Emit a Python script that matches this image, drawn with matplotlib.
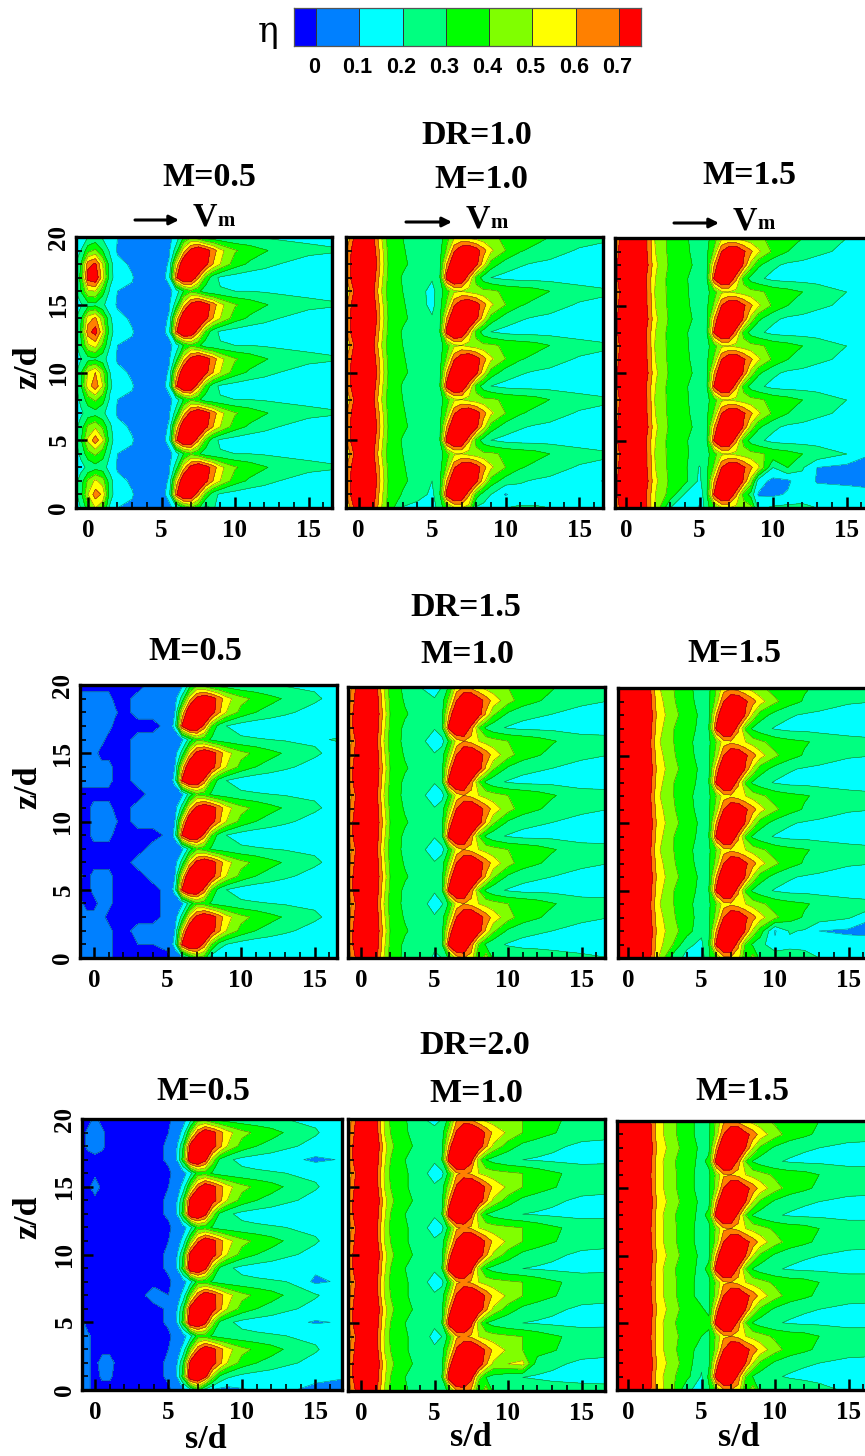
import numpy as np
import matplotlib
matplotlib.use('Agg')
import matplotlib.pyplot as plt
from matplotlib.patches import FancyArrowPatch

plt.rcParams['font.family'] = ['Liberation Serif', 'DejaVu Serif']
plt.rcParams['font.weight'] = 'bold'

W, H = 865, 1456

## data
levels = [0, 0.1, 0.2, 0.3, 0.4, 0.5, 0.6, 0.7]
level_labels = ['0', '0.1', '0.2', '0.3', '0.4', '0.5', '0.6', '0.7']
band_colors = ['#0000ff', '#0080ff', '#00ffff', '#00ff80', '#00ff00',
               '#80ff00', '#ffff00', '#ff8000', '#ff0000']

s_pos = [-1, -.5, 0, .5, 1, 1.5, 2, 3, 4, 5, 5.5, 6, 6.5, 7, 7.5, 8, 8.5, 9, 10, 11, 12, 13, 15, 17]
z_pos = list(range(21))

# one jet period per panel, rows are z = 0, 1, 2, 3 (repeats along z)
dr10_m05 = [
    [.11, .15, .3, .36, .28, .15, .1, .09, .05, .05, .07, .14, .3, .38, .32, .24, .22, .21, .2, .2, .19, .18, .17, .16],
    [.11, .17, .4, .6, .5, .18, .14, .105, .05, .07, .13, .68, .88, .84, .62, .38, .24, .18, .15, .13, .12, .12, .12, .12],
    [.11, .17, .35, .5, .4, .18, .12, .09, .05, .06, .11, .52, .84, .95, .92, .74, .6, .5, .35, .28, .24, .2, .15, .13],
    [.11, .14, .22, .26, .22, .15, .09, .08, .05, .05, .08, .25, .55, .74, .84, .76, .66, .53, .41, .36, .31, .27, .23, .21],
]
dr10_m10 = [
    [.45, .62, .85, .88, .72, .52, .37, .3, .24, .21, .25, .36, .48, .5, .46, .44, .42, .42, .38, .36, .34, .3, .24, .21],
    [.55, .72, .88, .88, .76, .55, .38, .29, .24, .21, .27, .75, .9, .85, .62, .36, .25, .2, .17, .16, .16, .16, .15, .15],
    [.55, .72, .88, .88, .8, .58, .4, .32, .26, .21, .26, .6, .86, .95, .9, .74, .54, .36, .25, .21, .19, .18, .16, .16],
    [.55, .7, .88, .88, .76, .56, .38, .31, .25, .21, .26, .42, .68, .8, .85, .76, .64, .52, .4, .31, .27, .24, .19, .18],
]
dr10_m15 = [
    [.5, .68, .88, .88, .82, .68, .48, .37, .31, .27, .27, .36, .48, .5, .47, .45, .43, .42, .37, .34, .3, .27, .2, .18],
    [.6, .72, .88, .88, .82, .66, .5, .36, .31, .26, .29, .72, .9, .85, .62, .36, .26, .22, .17, .16, .16, .15, .14, .14],
    [.6, .72, .88, .88, .84, .7, .52, .38, .33, .27, .28, .6, .86, .94, .88, .68, .46, .32, .22, .18, .17, .16, .15, .15],
    [.55, .7, .88, .88, .82, .68, .5, .37, .32, .26, .28, .42, .7, .82, .84, .72, .62, .52, .38, .3, .26, .22, .18, .16],
]
dr15_m05 = [
    [.02, .02, .02, .02, .02, .02, -.02, .02, .02, .02, .04, .08, .24, .38, .35, .28, .25, .24, .22, .21, .2, .19, .18, .13],
    [.02, .02, .02, .02, .02, .02, -.02, .02, .02, .02, .13, .72, .9, .85, .66, .4, .26, .2, .15, .13, .12, .12, .12, .11],
    [.02, .02, .02, .02, .02, .02, -.02, .02, .02, .02, .1, .52, .85, .95, .92, .76, .62, .5, .37, .3, .26, .22, .16, .11],
    [.02, .02, .02, .02, .02, .02, -.02, .02, .02, .02, .06, .24, .55, .74, .82, .76, .66, .54, .43, .38, .33, .29, .22, .14],
]
dr15_m10 = [
    [.5, .65, .85, .88, .76, .52, .35, .28, .24, .19, .2, .32, .54, .6, .56, .5, .46, .44, .4, .38, .35, .31, .24, .23],
    [.55, .72, .88, .88, .78, .55, .37, .28, .24, .21, .28, .75, .92, .88, .66, .4, .28, .23, .19, .17, .17, .17, .16, .16],
    [.55, .72, .88, .88, .8, .58, .39, .31, .26, .21, .26, .6, .88, .95, .92, .76, .58, .42, .28, .23, .21, .2, .17, .17],
    [.5, .68, .88, .88, .78, .55, .37, .29, .25, .21, .26, .44, .7, .84, .88, .76, .66, .56, .44, .35, .31, .27, .22, .2],
]
dr15_m15 = [
    [.55, .78, .9, .9, .85, .72, .52, .41, .32, .27, .28, .4, .55, .58, .54, .5, .45, .42, .36, .33, .31, .28, .24, .22],
    [.6, .78, .9, .9, .85, .74, .55, .41, .33, .28, .3, .72, .92, .86, .62, .38, .28, .24, .19, .17, .17, .16, .15, .15],
    [.6, .78, .9, .9, .86, .76, .57, .44, .35, .28, .28, .6, .88, .95, .88, .68, .48, .35, .26, .21, .19, .18, .16, .16],
    [.55, .76, .9, .9, .85, .73, .55, .42, .33, .27, .28, .44, .7, .82, .84, .72, .64, .54, .42, .34, .29, .25, .21, .2],
]
dr20_m05 = [
    [-.02, -.02, -.02, -.02, -.02, -.02, -.02, -.02, -.02, -.01, .02, .06, .16, .35, .35, .28, .25, .24, .23, .22, .21, .2, .18, .12],
    [-.02, -.02, -.02, -.02, -.02, -.02, -.02, -.02, -.02, .01, .07, .35, .85, .88, .74, .46, .28, .22, .17, .15, .14, .13, .12, .11],
    [-.02, -.02, -.02, -.02, -.02, -.02, -.02, -.02, -.02, .01, .06, .3, .76, .95, .95, .76, .63, .5, .36, .3, .26, .22, .17, .12],
    [-.02, -.02, -.02, -.02, -.02, -.02, -.02, -.02, -.02, 0, .04, .13, .42, .66, .8, .74, .64, .54, .43, .38, .34, .29, .21, .13],
]
dr20_m10 = [
    [.5, .65, .85, .88, .76, .52, .38, .31, .26, .2, .2, .34, .58, .62, .58, .5, .46, .44, .42, .4, .36, .32, .26, .25],
    [.55, .72, .88, .88, .78, .55, .4, .3, .25, .22, .3, .78, .95, .92, .74, .44, .3, .26, .22, .2, .19, .18, .17, .18],
    [.55, .72, .88, .88, .82, .58, .42, .33, .27, .22, .26, .62, .92, .98, .95, .8, .62, .48, .35, .27, .24, .22, .18, .18],
    [.5, .68, .88, .88, .78, .52, .4, .31, .26, .22, .26, .46, .72, .86, .9, .8, .68, .58, .48, .4, .35, .31, .24, .22],
]
dr20_m15 = [
    [.55, .78, .9, .9, .85, .72, .55, .43, .33, .27, .28, .42, .58, .6, .56, .5, .46, .44, .38, .35, .34, .3, .25, .25],
    [.6, .78, .9, .9, .85, .74, .55, .42, .33, .28, .32, .75, .92, .88, .66, .4, .29, .25, .21, .19, .18, .18, .17, .17],
    [.6, .78, .9, .9, .87, .76, .58, .45, .35, .28, .28, .6, .9, .95, .88, .7, .5, .38, .28, .23, .21, .2, .18, .18],
    [.55, .76, .9, .9, .85, .73, .55, .43, .33, .27, .28, .44, .7, .84, .88, .74, .66, .56, .44, .36, .32, .28, .23, .22],
]

# upstream spots of the first panel, z = 0..20, s = -1, -.5, 0, .5, 1, 1.5
dr10_m05_spots = [
    [.1, .2, .35, .5, .42, .18], [.14, .26, .5, .65, .58, .24], [.14, .24, .42, .52, .45, .24],
    [.13, .17, .22, .26, .24, .16], [.13, .22, .36, .42, .34, .2], [.15, .28, .52, .66, .52, .24],
    [.14, .24, .42, .48, .38, .22], [.13, .18, .24, .26, .22, .15], [.13, .22, .35, .42, .34, .18],
    [.14, .28, .55, .66, .5, .22], [.14, .28, .52, .6, .44, .2], [.13, .19, .26, .28, .24, .15],
    [.14, .28, .48, .54, .38, .2], [.16, .3, .66, .75, .52, .24], [.15, .28, .55, .62, .44, .22],
    [.13, .18, .26, .27, .22, .14], [.15, .3, .48, .5, .34, .18], [.17, .32, .76, .8, .54, .24],
    [.16, .3, .66, .72, .5, .24], [.13, .2, .36, .42, .3, .18], [.12, .14, .2, .22, .18, .13],
]

# upstream patchwork of DR=1.5 M=0.5, z = 0..20, s = -1 .. 5
D, L = -.02, .02
dr15_m05_up = [
    [L, L, L, L, L, D, D, D, D, D], [L, L, L, L, L, D, D, 0, 0, L], [L, L, L, L, L, D, D, L, L, L],
    [L, L, L, L, D, D, D, D, D, L], [L, D, D, L, L, D, D, D, D, L], [D, D, L, L, L, D, D, D, D, L],
    [L, D, L, L, L, D, D, D, L, L], [D, D, D, D, D, D, D, L, L, L], [D, D, D, D, D, D, D, D, L, L],
    [D, D, L, L, L, D, D, D, D, .01], [D, D, L, L, L, .005, D, L, L, L], [D, D, L, L, L, D, D, L, L, L],
    [D, D, D, D, D, D, D, D, L, L], [L, L, L, L, L, D, D, L, L, L], [L, L, L, L, L, D, D, L, L, L],
    [L, L, L, D, D, D, D, L, L, L], [L, L, L, L, D, D, D, L, L, L], [L, L, L, L, L, D, D, D, D, L],
    [L, L, L, L, L, .005, D, L, L, L], [L, L, L, L, L, D, D, L, L, L], [D, D, D, D, D, D, D, D, L, L],
]

# local spots that do not repeat: (s, z, eta)
patch_dr10_m05 = [(8, 0, .15), (9, 0, .13), (10, 0, .17), (11, 0, .18), (12, 0, .14), (13, 0, .12), (15, 0, .12), (17, 0, .12)]
patch_dr10_m10 = [(3, 0, .19), (4, 0, .16), (5, 0, .14), (5, 1, .18), (5, 2, .2), (8, 0, .18), (8.5, 0, .17), (9, 0, .18),
                  (10, 0, .2), (11, 0, .21), (12, 0, .21), (13, 0, .2), (15, 0, .16), (17, 0, .15), (10, 1, .09), (17, 2, .08),
                  (5, 15, .17), (5, 16, .17)]
patch_dr10_m15 = [(3, 0, .2), (4, 0, .16), (5, 0, .09), (4, 1, .19), (5, 1, .13), (5, 2, .18), (5, 3, .19),
                  (9, 0, .18), (10, 0, .22), (11, 0, .23), (12, 0, .22), (13, 0, .2), (15, 0, .15), (17, 0, .13),
                  (9, 1, .09), (10, 1, .08), (11, 1, .11), (9, 2, .15), (10, 2, .07), (11, 2, .08), (10, 3, .2), (12, 3, .21),
                  (13, 2, .09), (13, 3, .1), (15, 2, .08), (15, 3, .07), (17, 2, .05), (17, 3, .05), (17, 4, .09)]
patch_dr15_m05 = [(8, 0, .14), (8.5, 0, .09), (9, 0, .13), (10, 0, .2), (11, 0, .2), (12, 0, .19), (13, 0, .14), (15, 0, .12), (17, 0, .11),
                  (17, 16, .22), (17, 20, .22)]
patch_dr15_m10 = [(8, 0, .3), (9, 0, .27), (10, 0, .28), (11, 0, .28), (12, 0, .26), (13, 0, .24), (15, 0, .22), (17, 0, .2),
                  (5, 4, .16), (5, 8, .13), (5, 12, .13), (5, 16, .13), (5, 20, .16), (5.5, 4, .19), (5.5, 8, .16), (5.5, 12, .16),
                  (5.5, 16, .16), (4, 20, .2)]
patch_dr15_m15 = [(3, 0, .26), (4, 0, .17), (5, 0, .15), (4, 1, .22), (5, 1, .18), (5, 2, .22), (8, 0, .3), (9, 0, .25),
                  (10, 0, .28), (11, 0, .26), (12, 0, .24), (13, 0, .2), (15, 0, .18), (17, 0, .17),
                  (10, 2, .09), (10, 1, .12), (13, 2, .1), (15, 2, .08), (17, 2, .07), (17, 3, .1)]
patch_dr20_m05 = [(0, 18, .03), (0, 19, .03), (.5, 18, .01), (.5, 19, .01), (-.5, 18, .01), (-.5, 19, .01), (0, 15, .04), (4, 7, .03),
                  (.5, 2, .03), (1, 1, .01), (1, 2, .03), (.5, 1, .01), (-1, 0, .02), (-1, 1, .02), (-1, 2, .02), (-1, 3, .02),
                  (-1, 4, .02), (-1, 5, .02), (-.5, 0, .01), (-.5, 1, .01), (-.5, 2, .01), (-.5, 3, .01), (-.5, 4, .01), (0, 20, .01),
                  (7.5, 0, .15), (8, 0, .09), (8.5, 0, .07), (9, 0, .06), (10, 0, .09), (11, 0, .11), (12, 0, .12), (13, 0, .11),
                  (15, 0, .08), (17, 0, .05), (15, 8, .08), (15, 5, .09), (15, 17, .08)]
patch_dr20_m10 = [(8, 0, .3), (9, 0, .27), (10, 0, .26), (11, 0, .26), (12, 0, .26), (13, 0, .25), (15, 0, .24), (17, 0, .22),
                  (10, 2, .5), (11, 2, .53), (5, 4, .17), (5, 8, .14), (5, 12, .14), (5, 16, .14), (5, 20, .18), (5.5, 8, .17),
                  (5.5, 12, .17), (5.5, 16, .17), (4, 20, .21)]
patch_dr20_m15 = [(4, 0, .22), (5, 0, .16), (5, 1, .19), (5, 2, .22), (8, 0, .32), (9, 0, .25), (10, 0, .27), (11, 0, .27),
                  (12, 0, .25), (13, 0, .22), (15, 0, .19), (17, 0, .18), (5, 4, .3), (5, 5, .31), (5, 6, .31), (4, 4, .36)]

fields = [dr10_m05, dr10_m10, dr10_m15, dr15_m05, dr15_m10, dr15_m15, dr20_m05, dr20_m10, dr20_m15]
patches = [patch_dr10_m05, patch_dr10_m10, patch_dr10_m15, patch_dr15_m05, patch_dr15_m10,
           patch_dr15_m15, patch_dr20_m05, patch_dr20_m10, patch_dr20_m15]

## layout, in pixels: left, right, top, bottom, x pixel of s/d=0
boxes = [(76, 332, 237, 508, 88), (346, 603, 237, 508, 358.6), (615, 873, 238, 508, 626),
         (80, 337, 685, 958, 94), (348, 605, 687, 958, 361), (618, 875, 688, 958, 628),
         (82, 342, 1119, 1390, 95), (348, 605, 1119, 1391, 361), (617, 875, 1121, 1390, 628)]
px_per_s = 14.7


def fig_text(x, y, txt, **kw):
    kw.setdefault('ha', 'center')
    kw.setdefault('va', 'center')
    fig.text(x / W, 1 - y / H, txt, **kw)


fig = plt.figure(figsize=(W / 100, H / 100), dpi=100)

## panels
for i in range(9):
    grid = np.array([fields[i][z % 4] for z in z_pos], dtype=float)
    if i == 0:
        grid[:, :6] = dr10_m05_spots
    if i == 3:
        grid[:, :10] = dr15_m05_up
    for s, z, val in patches[i]:
        grid[z, s_pos.index(s)] = val

    l, r, t, b, s0 = boxes[i]
    ax = fig.add_axes([l / W, 1 - b / H, (r - l) / W, (b - t) / H])
    ax.contourf(s_pos, z_pos, grid, levels=[-1] + levels + [2], colors=band_colors)
    ax.contour(s_pos, z_pos, grid, levels=levels, colors='#222222', linewidths=0.35, alpha=0.7)
    ax.set_xlim((l - s0) / px_per_s, (r - s0) / px_per_s)
    ax.set_ylim(0, 20)
    ax.set_xticks([0, 5, 10, 15])
    ax.set_yticks([0, 5, 10, 15, 20])
    ax.set_xticks(range(0, 17), minor=True)
    ax.set_yticks(range(0, 21), minor=True)
    ax.tick_params(which='major', direction='in', length=8, width=1.8, labelsize=18, pad=8)
    ax.tick_params(which='minor', direction='in', length=4.5, width=1.2)
    if i % 3 == 0:
        ax.set_yticklabels(['0', '5', '10', '15', '20'], rotation=90, va='center')
        ax.tick_params(axis='y', pad=4)
    else:
        ax.tick_params(axis='y', labelleft=False)
    for sp in ax.spines.values():
        sp.set_linewidth(2.4)

## titles
for x, y, txt in [(477, 135, 'DR=1.0'), (209, 178, 'M=0.5'), (481, 179, 'M=1.0'), (749, 176, 'M=1.5'),
                  (466, 607, 'DR=1.5'), (195, 652, 'M=0.5'), (467, 655, 'M=1.0'), (734, 653, 'M=1.5'),
                  (475, 1045, 'DR=2.0'), (203, 1092, 'M=0.5'), (476, 1093, 'M=1.0'), (742, 1092, 'M=1.5')]:
    fig_text(x, y, txt, fontsize=24.5)

for y in [367, 787, 1217]:
    fig_text(28, y, 'z/d', fontsize=24.5, rotation=90)
for x, y in [(206, 1440), (471, 1438), (739, 1438)]:
    fig_text(x, y, 's/d', fontsize=24.5)

## flow direction arrows
for x0, x1, y in [(135, 179, 220), (406, 452, 222), (674, 719, 223)]:
    fig.add_artist(FancyArrowPatch((x0 / W, 1 - y / H), (x1 / W, 1 - y / H), transform=fig.transFigure,
                                   arrowstyle='-|>', mutation_scale=14, lw=2.2, color='k',
                                   shrinkA=0, shrinkB=0))
    fig_text(x1 + 14, y + 6, 'V', fontsize=24.5, ha='left', va='baseline')
    fig_text(x1 + 38, y + 6, 'm', fontsize=15, ha='left', va='baseline')

## legend
cax = fig.add_axes([293.5 / W, 1 - 46 / H, (641 - 293.5) / W, 38 / H])
edges = [-0.052] + levels + [0.751]
cax.bar(edges[:-1], 1, width=np.diff(edges), align='edge', color=band_colors, edgecolor='#333333', linewidth=0.7)
cax.set_xlim(edges[0], edges[-1])
cax.set_ylim(0, 1)
cax.set_yticks([])
cax.set_xticks([v - 0.004 for v in levels])
cax.set_xticklabels(level_labels, family='Liberation Sans', fontsize=15.5, fontweight='bold')
cax.tick_params(axis='x', length=0, pad=8)
for sp in cax.spines.values():
    sp.set_linewidth(0.9)
    sp.set_color('#555555')
fig_text(268, 32, 'η', fontsize=25, fontweight='normal', family=['DejaVu Serif'])

fig.savefig('out.png', dpi=100)
